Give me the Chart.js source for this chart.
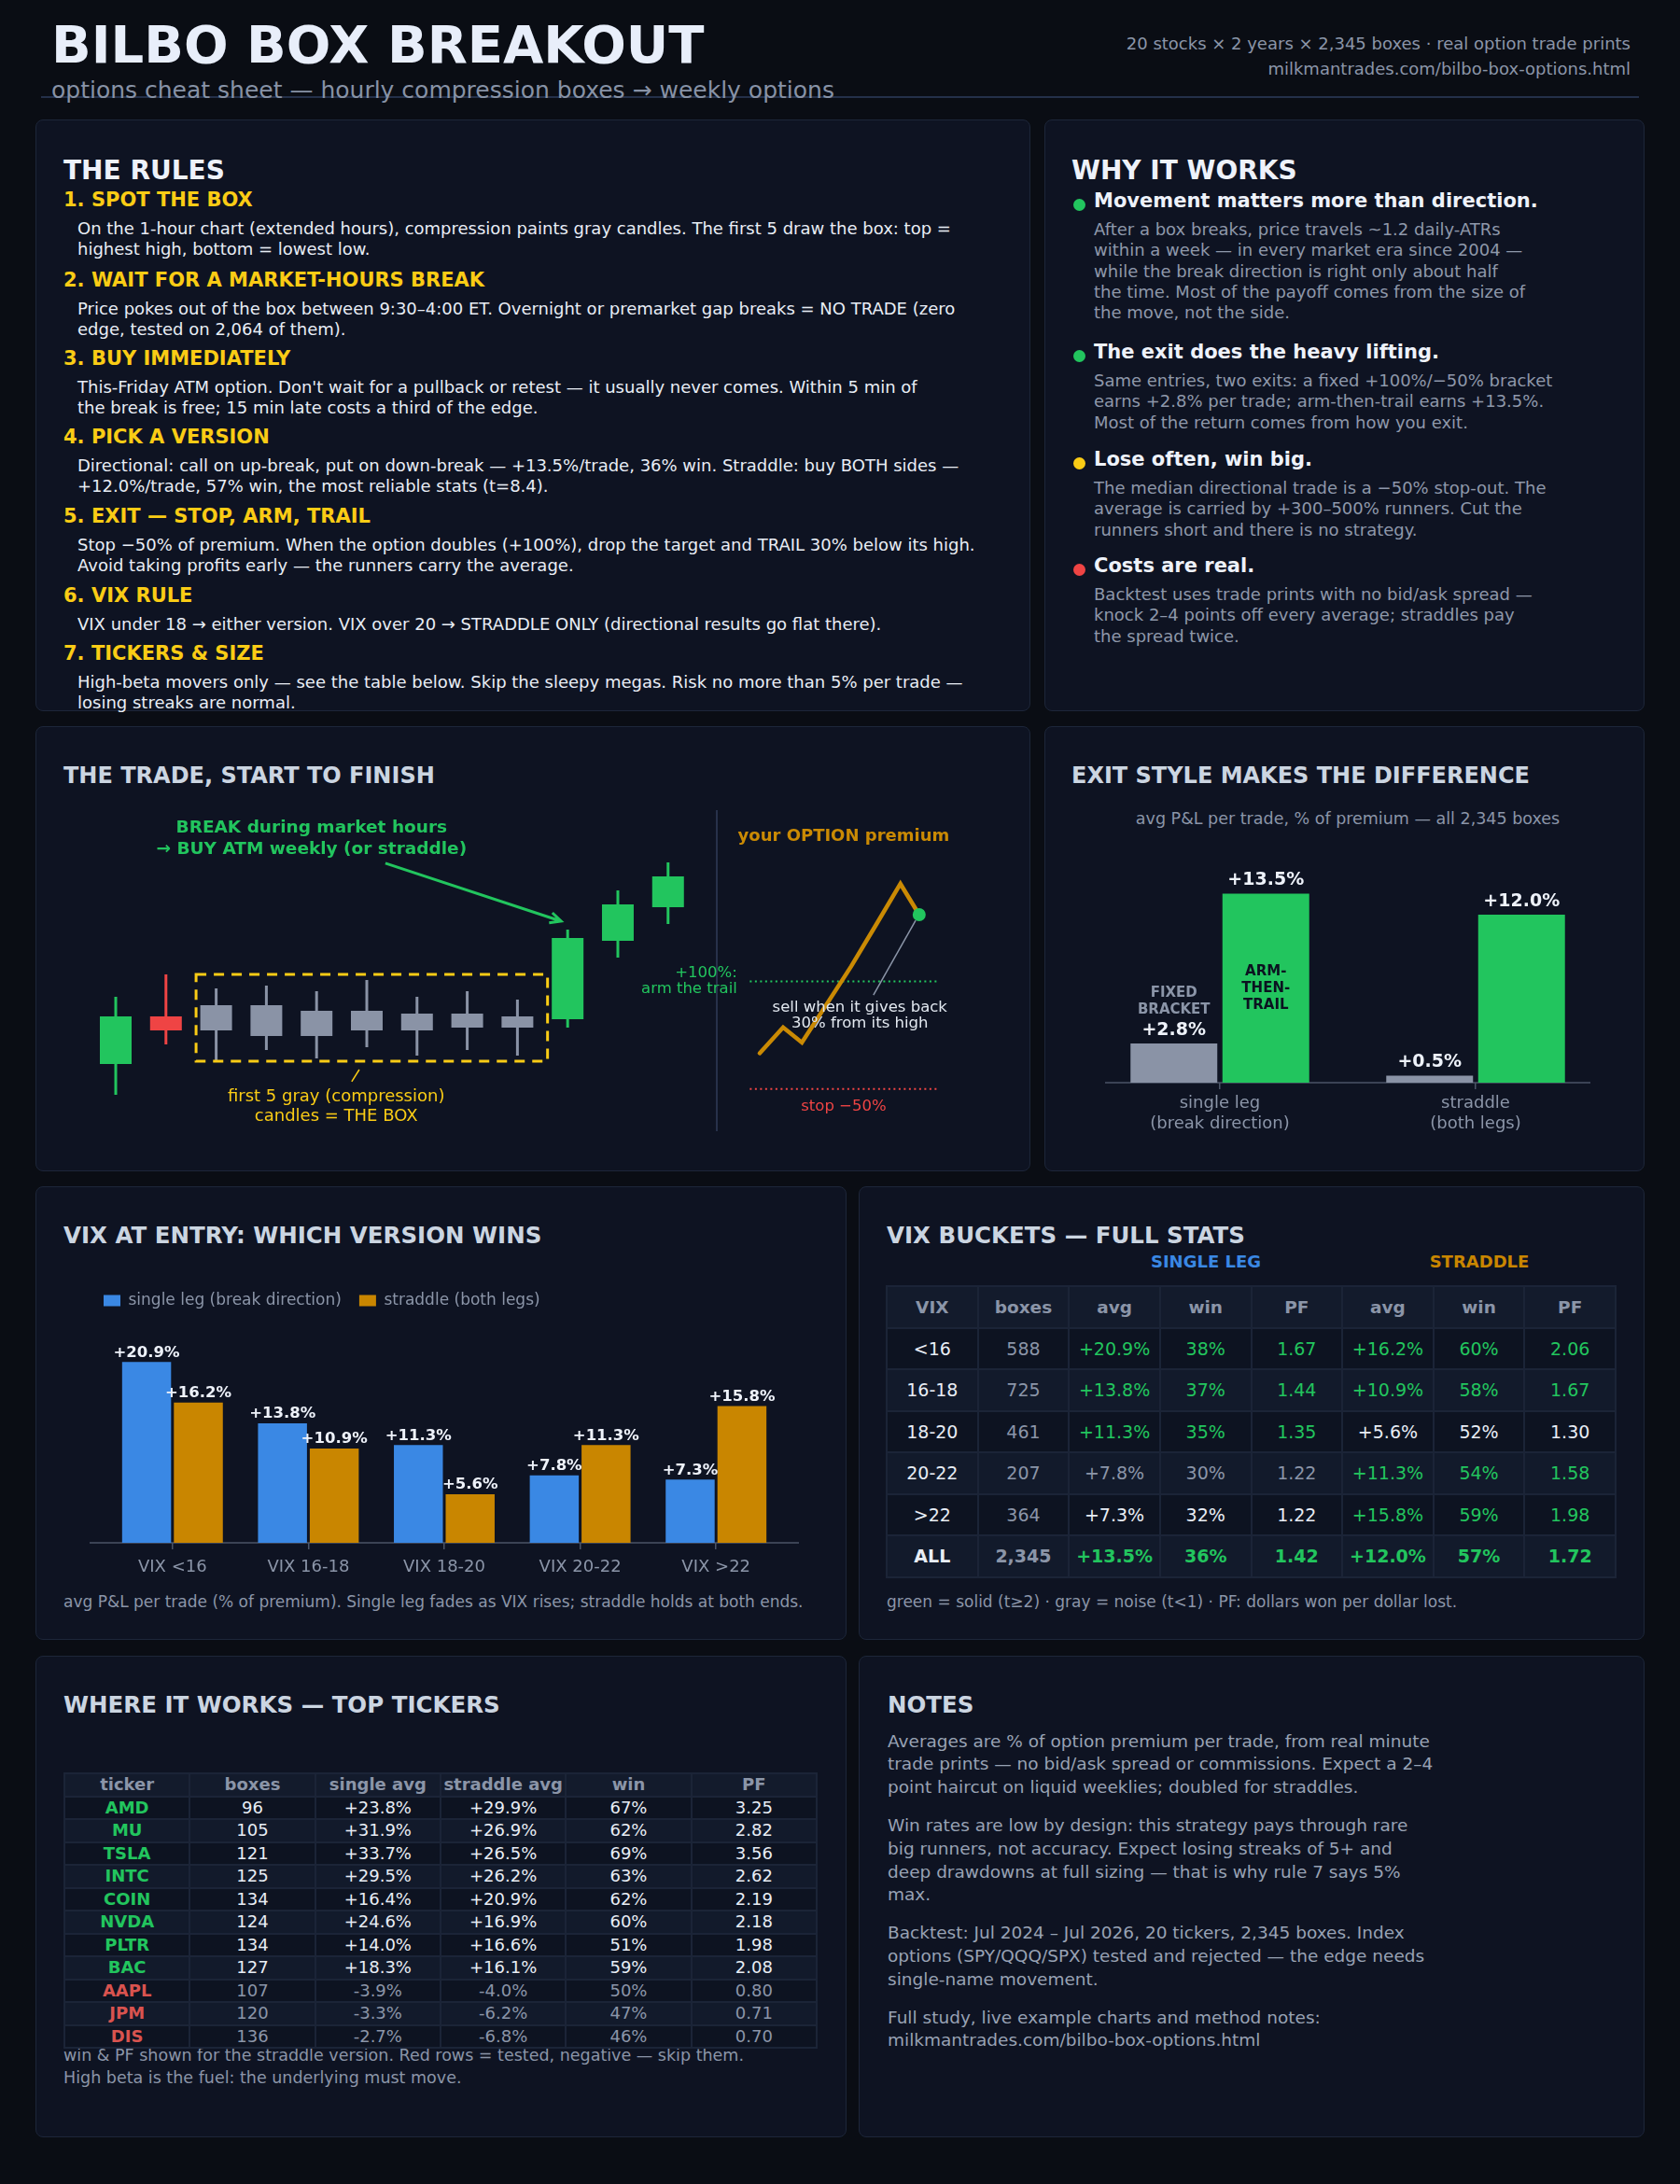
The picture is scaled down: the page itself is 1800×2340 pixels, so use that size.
<!DOCTYPE html>
<html>
<head>
<meta charset="utf-8">
<title>Bilbo Box Breakout</title>
<script src="https://cdn.jsdelivr.net/npm/chart.js@4.4.1/dist/chart.umd.min.js"></script>
<style>
  html, body { margin: 0; padding: 0; }
  body { width: 1800px; height: 2340px; background: #0a0d14; position: relative; overflow: hidden;
         font-family: "DejaVu Sans", sans-serif; }
  .abs { position: absolute; white-space: pre; z-index: 3; }
  .panel { position: absolute; background: #0e1322; border: 1.5px solid #1d2639; border-radius: 8px; box-sizing: border-box; z-index: 1; }
  canvas { position: absolute; z-index: 5; }
  table { position: absolute; border-collapse: collapse; table-layout: fixed; z-index: 3; }
  td, th { text-align: center; border: 2px solid #1b2437; padding: 0; white-space: nowrap; overflow: hidden; }
</style>
</head>
<body>
<canvas id="candles" width="670" height="360" style="left:90px;top:860px;width:670px;height:360px"></canvas>
<canvas id="premium" width="420" height="360" style="left:660px;top:860px;width:420px;height:360px"></canvas>
<canvas id="exitChart" width="548" height="345" style="left:1170px;top:890px;width:548px;height:345px"></canvas>
<canvas id="vixChart" width="768" height="337" style="left:92px;top:1366px;width:768px;height:337px"></canvas>
<script>
//data: rules panel
const ruleTitles = ["1. SPOT THE BOX", "2. WAIT FOR A MARKET-HOURS BREAK", "3. BUY IMMEDIATELY",
	"4. PICK A VERSION", "5. EXIT \u2014 STOP, ARM, TRAIL", "6. VIX RULE", "7. TICKERS & SIZE"];
const ruleLines = [
	["On the 1-hour chart (extended hours), compression paints gray candles. The first 5 draw the box: top =",
	 "highest high, bottom = lowest low."],
	["Price pokes out of the box between 9:30\u20134:00 ET. Overnight or premarket gap breaks = NO TRADE (zero",
	 "edge, tested on 2,064 of them)."],
	["This-Friday ATM option. Don't wait for a pullback or retest \u2014 it usually never comes. Within 5 min of",
	 "the break is free; 15 min late costs a third of the edge."],
	["Directional: call on up-break, put on down-break \u2014 +13.5%/trade, 36% win. Straddle: buy BOTH sides \u2014",
	 "+12.0%/trade, 57% win, the most reliable stats (t=8.4)."],
	["Stop \u221250% of premium. When the option doubles (+100%), drop the target and TRAIL 30% below its high.",
	 "Avoid taking profits early \u2014 the runners carry the average."],
	["VIX under 18 \u2192 either version. VIX over 20 \u2192 STRADDLE ONLY (directional results go flat there)."],
	["High-beta movers only \u2014 see the table below. Skip the sleepy megas. Risk no more than 5% per trade \u2014",
	 "losing streaks are normal."],
];

//data: why it works
const whyTitles = ["Movement matters more than direction.", "The exit does the heavy lifting.",
	"Lose often, win big.", "Costs are real."];
const whyTone = ["good", "good", "warn", "bad"];
const whyLines = [
	["After a box breaks, price travels ~1.2 daily-ATRs", "within a week \u2014 in every market era since 2004 \u2014",
	 "while the break direction is right only about half", "the time. Most of the payoff comes from the size of",
	 "the move, not the side."],
	["Same entries, two exits: a fixed +100%/\u221250% bracket", "earns +2.8% per trade; arm-then-trail earns +13.5%.",
	 "Most of the return comes from how you exit."],
	["The median directional trade is a \u221250% stop-out. The", "average is carried by +300\u2013500% runners. Cut the",
	 "runners short and there is no strategy."],
	["Backtest uses trade prints with no bid/ask spread \u2014", "knock 2\u20134 points off every average; straddles pay",
	 "the spread twice."],
];

//data: schematic candles (price units) and the option premium path (% of premium)
const candleOpen = [20, 37, 32, 30, 39, 32, 38, 33, 37, 36, 64, 76];
const candleClose = [37, 32, 41, 41, 30, 39, 32, 38, 33, 65, 77, 87];
const candleHigh = [44, 52, 47, 48, 46, 50, 44, 46, 43, 68, 82, 92];
const candleLow = [9, 27, 21, 25, 22, 26, 23, 25, 23, 33, 58, 70];
const compressionFrom = 2, compressionTo = 8;
const boxLeft = 1.6, boxRight = 8.6, boxTop = 52, boxBottom = 21;
const premiumX = [0, 1, 1.8, 3.9, 5, 6, 6.8];
const premiumPct = [0, 36, 15, 121, 181, 236, 193];
const armLevel = 100, stopLevel = -50;

//data: exit style
const exitGroups = [["single leg", "(break direction)"], ["straddle", "(both legs)"]];
const fixedBracket = [2.8, 0.5];
const armTrail = [13.5, 12.0];
const exitTagFixed = ["FIXED", "BRACKET"];
const exitTagTrail = ["ARM-", "THEN-", "TRAIL"];

//data: VIX buckets (last entry = ALL)
const vixBuckets = ["<16", "16-18", "18-20", "20-22", ">22", "ALL"];
const vixLabels = ["VIX <16", "VIX 16-18", "VIX 18-20", "VIX 20-22", "VIX >22"];
const vixBoxes = [588, 725, 461, 207, 364, 2345];
const singleAvg = [20.9, 13.8, 11.3, 7.8, 7.3, 13.5];
const singleWin = [38, 37, 35, 30, 32, 36];
const singlePF = [1.67, 1.44, 1.35, 1.22, 1.22, 1.42];
const singleSig = ["solid", "solid", "solid", "noise", "mid", "solid"];
const straddleAvg = [16.2, 10.9, 5.6, 11.3, 15.8, 12.0];
const straddleWin = [60, 58, 52, 54, 59, 57];
const straddlePF = [2.06, 1.67, 1.30, 1.58, 1.98, 1.72];
const straddleSig = ["solid", "solid", "mid", "solid", "solid", "solid"];

//data: tickers
const tickers = ["AMD", "MU", "TSLA", "INTC", "COIN", "NVDA", "PLTR", "BAC", "AAPL", "JPM", "DIS"];
const tickerBoxes = [96, 105, 121, 125, 134, 124, 134, 127, 107, 120, 136];
const tickerSingle = [23.8, 31.9, 33.7, 29.5, 16.4, 24.6, 14.0, 18.3, -3.9, -3.3, -2.7];
const tickerStraddle = [29.9, 26.9, 26.5, 26.2, 20.9, 16.9, 16.6, 16.1, -4.0, -6.2, -6.8];
const tickerWin = [67, 62, 69, 63, 62, 60, 51, 59, 50, 47, 46];
const tickerPF = [3.25, 2.82, 3.56, 2.62, 2.19, 2.18, 1.98, 2.08, 0.80, 0.71, 0.70];

//data: notes
const notes = [
	["Averages are % of option premium per trade, from real minute",
	 "trade prints \u2014 no bid/ask spread or commissions. Expect a 2\u20134",
	 "point haircut on liquid weeklies; doubled for straddles."],
	["Win rates are low by design: this strategy pays through rare",
	 "big runners, not accuracy. Expect losing streaks of 5+ and",
	 "deep drawdowns at full sizing \u2014 that is why rule 7 says 5%", "max."],
	["Backtest: Jul 2024 \u2013 Jul 2026, 20 tickers, 2,345 boxes. Index",
	 "options (SPY/QQQ/SPX) tested and rejected \u2014 the edge needs", "single-name movement."],
	["Full study, live example charts and method notes:", "milkmantrades.com/bilbo-box-options.html"],
];

//colours
const GREEN = "#22c55e", RED = "#ef4444", YELLOW = "#facc15", GOLD = "#ca8a04";
const BLUE = "#3a88e4", ORANGE = "#c98600", GRAY = "#8b95a8", CANDLE_GRAY = "#8a93a6";
const WHITE = "#e8edf5", TITLE = "#eef2fa", SUBTITLE = "#cbd5e1";
const FONT = '"DejaVu Sans"';

//helpers: cy is the centre of the first line
function put(x, cy, lines, o) {
	const lh = o.lh || Math.round(o.size * 1.25);
	const d = document.createElement("div");
	d.className = "abs";
	d.style.top = (cy - lh / 2) + "px";
	d.style.fontSize = o.size + "px";
	d.style.lineHeight = lh + "px";
	d.style.color = o.color;
	d.style.fontWeight = o.bold ? "bold" : "normal";
	if (o.align === "right") {
		d.style.right = (1800 - x) + "px";
		d.style.textAlign = "right";
	} else if (o.align === "center") {
		d.style.left = (x - 300) + "px";
		d.style.width = "600px";
		d.style.textAlign = "center";
	} else {
		d.style.left = x + "px";
	}
	d.textContent = lines.join("\n");
	document.body.appendChild(d);
	return d;
}
function box(cls, x, y, w, h, css) {
	const d = document.createElement("div");
	d.className = cls;
	Object.assign(d.style, { position: "absolute", left: x + "px", top: y + "px", width: w + "px", height: h + "px" }, css || {});
	document.body.appendChild(d);
}
const pct = v => (v >= 0 ? "+" : "") + v.toFixed(1) + "%";

//panels
box("panel", 38, 128, 1066, 634);
box("panel", 1119, 128, 643, 634);
box("panel", 38, 778, 1066, 477);
box("panel", 1119, 778, 643, 477);
box("panel", 38, 1271, 869, 486);
box("panel", 920, 1271, 842, 486);
box("panel", 38, 1774, 869, 516);
box("panel", 920, 1774, 842, 516);

//header
put(55, 48, ["BILBO BOX BREAKOUT"], { size: 56, bold: true, color: "#e8eefa", lh: 62 });
box("", 44, 103, 1712, 2, { background: "#243049", zIndex: 2 });
put(55, 97, ["options cheat sheet \u2014 hourly compression boxes \u2192 weekly options"], { size: 25, color: "#8792a6", lh: 30 });
put(1747, 46, ["20 stocks \u00d7 2 years \u00d7 2,345 boxes \u00b7 real option trade prints"], { size: 18, color: GRAY, align: "right" });
put(1747, 73, ["milkmantrades.com/bilbo-box-options.html"], { size: 18, color: GRAY, align: "right" });

//rules
put(68, 182, ["THE RULES"], { size: 28, bold: true, color: TITLE });
const ruleHeadY = [214, 300, 384, 468, 553, 638, 700];
ruleTitles.forEach((t, i) => {
	put(68, ruleHeadY[i], [t], { size: 21, bold: true, color: YELLOW });
	put(83, ruleHeadY[i] + 31, ruleLines[i], { size: 18, lh: 22.5, color: WHITE });
});

//why it works
put(1148, 182, ["WHY IT WORKS"], { size: 28, bold: true, color: TITLE });
const whyHeadY = [215, 377, 492, 606];
const toneColor = { good: GREEN, warn: YELLOW, bad: RED };
whyTitles.forEach((t, i) => {
	box("", 1150, whyHeadY[i] - 2.5, 13, 13, { borderRadius: "50%", background: toneColor[whyTone[i]], zIndex: 3 });
	put(1172, whyHeadY[i], [t], { size: 21, bold: true, color: TITLE });
	put(1172, whyHeadY[i] + 31, whyLines[i], { size: 18, lh: 22.4, color: "#8e98aa" });
});

//section titles and captions
put(68, 831, ["THE TRADE, START TO FINISH"], { size: 24, bold: true, color: SUBTITLE });
put(1148, 831, ["EXIT STYLE MAKES THE DIFFERENCE"], { size: 24, bold: true, color: SUBTITLE });
put(1444, 877, ["avg P&L per trade, % of premium \u2014 all 2,345 boxes"], { size: 17.5, color: GRAY, align: "center" });
put(68, 1323, ["VIX AT ENTRY: WHICH VERSION WINS"], { size: 24.5, bold: true, color: SUBTITLE });
put(68, 1716, ["avg P&L per trade (% of premium). Single leg fades as VIX rises; straddle holds at both ends."], { size: 17, color: GRAY });
put(950, 1323, ["VIX BUCKETS \u2014 FULL STATS"], { size: 24.5, bold: true, color: SUBTITLE });
put(1292, 1351, ["SINGLE LEG"], { size: 18, bold: true, color: BLUE, align: "center" });
put(1585, 1351, ["STRADDLE"], { size: 18, bold: true, color: ORANGE, align: "center" });
put(950, 1716, ["green = solid (t\u22652) \u00b7 gray = noise (t<1) \u00b7 PF: dollars won per dollar lost."], { size: 17, color: GRAY });
put(68, 1826, ["WHERE IT WORKS \u2014 TOP TICKERS"], { size: 24.5, bold: true, color: SUBTITLE });
put(68, 2202, ["win & PF shown for the straddle version. Red rows = tested, negative \u2014 skip them.",
	"High beta is the fuel: the underlying must move."], { size: 17.5, lh: 24, color: GRAY });
put(951, 1826, ["NOTES"], { size: 24.5, bold: true, color: SUBTITLE });

//notes
let noteY = 1866;
notes.forEach(p => {
	put(951, noteY, p, { size: 18.5, lh: 24.8, color: "#98a2b4" });
	noteY += 24.8 * p.length + 16;
});

//divider in the trade panel
box("", 767, 868, 1.5, 344, { background: "#27314a", zIndex: 2 });

//VIX buckets table
(function () {
	const sigColor = { solid: GREEN, noise: GRAY, mid: WHITE };
	const t = document.createElement("table");
	Object.assign(t.style, { left: "949px", top: "1377px", width: "783px" });
	let html = "<tr style='height:44.5px;background:#131b2c'>" +
		["VIX", "boxes", "avg", "win", "PF", "avg", "win", "PF"].map(h =>
			"<th style='font-size:18.5px;color:" + GRAY + "'>" + h + "</th>").join("") + "</tr>";
	vixBuckets.forEach((b, i) => {
		const all = i === vixBuckets.length - 1;
		const bg = i % 2 === 0 ? "#0d1321" : "#121a2b";
		const w = all ? "bold" : "normal";
		const cell = (txt, c) => "<td style='font-size:19px;font-weight:" + w + ";color:" + c + "'>" + txt + "</td>";
		const sc = sigColor[singleSig[i]], tc = sigColor[straddleSig[i]];
		html += "<tr style='height:44.5px;background:" + bg + "'>" +
			cell(b, WHITE) + cell(vixBoxes[i].toLocaleString("en-US"), GRAY) +
			cell(pct(singleAvg[i]), sc) + cell(singleWin[i] + "%", sc) + cell(singlePF[i].toFixed(2), sc) +
			cell(pct(straddleAvg[i]), tc) + cell(straddleWin[i] + "%", tc) + cell(straddlePF[i].toFixed(2), tc) + "</tr>";
	});
	t.innerHTML = html;
	document.body.appendChild(t);
})();

//tickers table
(function () {
	const t = document.createElement("table");
	Object.assign(t.style, { left: "68px", top: "1899px", width: "808px" });
	let html = "<tr style='height:24.5px;background:#131b2c'>" +
		["ticker", "boxes", "single avg", "straddle avg", "win", "PF"].map(h =>
			"<th style='font-size:18px;line-height:20px;color:" + GRAY + "'>" + h + "</th>").join("") + "</tr>";
	tickers.forEach((tk, i) => {
		const neg = tickerStraddle[i] < 0;
		const bg = i % 2 === 0 ? "#0d1321" : "#121a2b";
		const vc = neg ? GRAY : WHITE;
		const cell = (txt, c, b) => "<td style='font-size:18px;line-height:20px;font-weight:" + (b ? "bold" : "normal") + ";color:" + c + "'>" + txt + "</td>";
		html += "<tr style='height:24.5px;background:" + bg + "'>" +
			cell(tk, neg ? "#d9534f" : GREEN, true) + cell(tickerBoxes[i], vc) + cell(pct(tickerSingle[i]), vc) +
			cell(pct(tickerStraddle[i]), vc) + cell(tickerWin[i] + "%", vc) + cell(tickerPF[i].toFixed(2), vc) + "</tr>";
	});
	t.innerHTML = html;
	document.body.appendChild(t);
})();

//charts
Chart.defaults.font.family = FONT;
Chart.defaults.animation = false;

//value labels above bars
const barLabels = {
	id: "barLabels",
	afterDatasetsDraw(chart, args, opts) {
		const ctx = chart.ctx;
		ctx.save();
		ctx.font = opts.font;
		ctx.fillStyle = opts.color;
		ctx.textAlign = "center";
		ctx.textBaseline = "middle";
		chart.data.datasets.forEach((ds, di) => {
			chart.getDatasetMeta(di).data.forEach((bar, i) => {
				ctx.fillText(pct(ds.data[i]), bar.x, bar.y - opts.offset);
			});
		});
		ctx.restore();
	},
};

//zero line, may run a little past the plot area
const baseline = {
	id: "baseline",
	beforeDatasetsDraw(chart, args, opts) {
		const { ctx, chartArea, scales } = chart;
		const py = scales.y.getPixelForValue(0);
		ctx.save();
		ctx.strokeStyle = opts.color;
		ctx.lineWidth = 1.5;
		ctx.beginPath();
		ctx.moveTo(chartArea.left - opts.extend, py);
		ctx.lineTo(chartArea.right + opts.extend, py);
		ctx.stroke();
		ctx.restore();
	},
};

//candles: gray inside the compression run, otherwise green/red
function candleColor(i) {
	if (i >= compressionFrom && i <= compressionTo) return CANDLE_GRAY;
	return candleClose[i] >= candleOpen[i] ? GREEN : RED;
}

const tradeMarks = {
	id: "tradeMarks",
	afterDatasetsDraw(chart) {
		const { ctx, scales: { x, y } } = chart;
		ctx.save();
		//the box
		ctx.strokeStyle = YELLOW;
		ctx.lineWidth = 3;
		ctx.setLineDash([11, 8]);
		const bx = x.getPixelForValue(boxLeft), by = y.getPixelForValue(boxTop);
		ctx.strokeRect(bx, by, x.getPixelForValue(boxRight) - bx, y.getPixelForValue(boxBottom) - by);
		ctx.setLineDash([]);
		//pointer from the caption
		ctx.lineWidth = 1.5;
		ctx.beginPath();
		ctx.moveTo(x.getPixelForValue(4.85), y.getPixelForValue(18));
		ctx.lineTo(x.getPixelForValue(4.7), y.getPixelForValue(13.7));
		ctx.stroke();
		//arrow to the break candle
		const x0 = x.getPixelForValue(5.37), y0 = y.getPixelForValue(91.7);
		const x1 = x.getPixelForValue(8.87), y1 = y.getPixelForValue(71);
		const a = Math.atan2(y1 - y0, x1 - x0);
		ctx.strokeStyle = GREEN;
		ctx.lineWidth = 3;
		ctx.beginPath();
		ctx.moveTo(x0, y0);
		ctx.lineTo(x1, y1);
		ctx.moveTo(x1 - 13 * Math.cos(a - 0.45), y1 - 13 * Math.sin(a - 0.45));
		ctx.lineTo(x1, y1);
		ctx.lineTo(x1 - 13 * Math.cos(a + 0.45), y1 - 13 * Math.sin(a + 0.45));
		ctx.stroke();
		//texts
		ctx.textAlign = "center";
		ctx.textBaseline = "middle";
		ctx.fillStyle = GREEN;
		ctx.font = "bold 18.5px " + FONT;
		ctx.fillText("BREAK during market hours", x.getPixelForValue(3.9), y.getPixelForValue(104.3));
		ctx.fillText("\u2192 BUY ATM weekly (or straddle)", x.getPixelForValue(3.9), y.getPixelForValue(96.7));
		ctx.fillStyle = YELLOW;
		ctx.font = "18px " + FONT;
		ctx.fillText("first 5 gray (compression)", x.getPixelForValue(4.39), y.getPixelForValue(8.3));
		ctx.fillText("candles = THE BOX", x.getPixelForValue(4.39), y.getPixelForValue(1.3));
		ctx.restore();
	},
};

new Chart(document.getElementById("candles"), {
	type: "bar",
	data: {
		datasets: [
			{
				label: "body",
				data: candleOpen.map((o, i) => ({ x: i, y: [o, candleClose[i]] })),
				backgroundColor: ctx => candleColor(ctx.dataIndex),
				grouped: false,
				maxBarThickness: 34,
			},
			{
				label: "wick",
				data: candleLow.map((l, i) => ({ x: i, y: [l, candleHigh[i]] })),
				backgroundColor: ctx => candleColor(ctx.dataIndex),
				grouped: false,
				maxBarThickness: 3,
			},
		],
	},
	options: {
		responsive: false,
		layout: { padding: 0 },
		plugins: { legend: { display: false }, tooltip: { enabled: false } },
		scales: {
			x: { type: "linear", display: false, offset: false, min: -0.632, max: 11.822 },
			y: { display: false, min: -6.667, max: 113.333 },
		},
	},
	plugins: [tradeMarks],
});

const premiumMarks = {
	id: "premiumMarks",
	beforeDatasetsDraw(chart) {
		const { ctx, scales: { x, y } } = chart;
		ctx.save();
		ctx.lineWidth = 2;
		ctx.setLineDash([2, 3.5]);
		[[armLevel, GREEN], [stopLevel, RED]].forEach(([lv, c]) => {
			ctx.strokeStyle = c;
			ctx.beginPath();
			ctx.moveTo(x.getPixelForValue(-0.42), y.getPixelForValue(lv));
			ctx.lineTo(x.getPixelForValue(7.6), y.getPixelForValue(lv));
			ctx.stroke();
		});
		ctx.restore();
	},
	afterDatasetsDraw(chart) {
		const { ctx, scales: { x, y } } = chart;
		ctx.save();
		ctx.strokeStyle = GRAY;
		ctx.lineWidth = 1.5;
		ctx.beginPath();
		ctx.moveTo(x.getPixelForValue(4.85), y.getPixelForValue(81));
		ctx.lineTo(x.getPixelForValue(6.65), y.getPixelForValue(185));
		ctx.stroke();
		ctx.textBaseline = "middle";
		ctx.textAlign = "center";
		ctx.font = "bold 18px " + FONT;
		ctx.fillStyle = GOLD;
		ctx.fillText("your OPTION premium", x.getPixelForValue(3.58), y.getPixelForValue(302.5));
		ctx.font = "16.5px " + FONT;
		ctx.fillStyle = RED;
		ctx.fillText("stop \u221250%", x.getPixelForValue(3.58), y.getPixelForValue(-75));
		ctx.fillStyle = "#e2e8f0";
		ctx.fillText("sell when it gives back", x.getPixelForValue(4.27), y.getPixelForValue(63.75));
		ctx.fillText("30% from its high", x.getPixelForValue(4.27), y.getPixelForValue(41.25));
		ctx.textAlign = "right";
		ctx.fillStyle = GREEN;
		ctx.fillText("+100%:", x.getPixelForValue(-0.96), y.getPixelForValue(111));
		ctx.fillText("arm the trail", x.getPixelForValue(-0.96), y.getPixelForValue(88.75));
		ctx.restore();
	},
};

new Chart(document.getElementById("premium"), {
	type: "line",
	data: {
		datasets: [{
			label: "option premium",
			data: premiumX.map((v, i) => ({ x: v, y: premiumPct[i] })),
			borderColor: GOLD,
			borderWidth: 4.5,
			borderCapStyle: "round",
			tension: 0,
			pointRadius: ctx => (ctx.dataIndex === premiumPct.length - 1 ? 7 : 0),
			pointBackgroundColor: GREEN,
			pointBorderWidth: 0,
		}],
	},
	options: {
		responsive: false,
		layout: { padding: 0 },
		plugins: { legend: { display: false }, tooltip: { enabled: false } },
		scales: {
			x: { type: "linear", display: false, min: -5.846, max: 10.308 },
			y: { display: false, min: -110, max: 340 },
		},
	},
	plugins: [premiumMarks],
});

//exit style chart
const exitTags = {
	id: "exitTags",
	afterDatasetsDraw(chart) {
		const ctx = chart.ctx;
		const fixed = chart.getDatasetMeta(0).data[0];
		const trail = chart.getDatasetMeta(1).data[0];
		ctx.save();
		ctx.font = "bold 15px " + FONT;
		ctx.textAlign = "center";
		ctx.textBaseline = "middle";
		ctx.fillStyle = GRAY;
		exitTagFixed.forEach((t, i) => ctx.fillText(t, fixed.x, fixed.y - 54 + i * 18));
		ctx.fillStyle = "#0b1220";
		const mid = (trail.y + trail.base) / 2;
		exitTagTrail.forEach((t, i) => ctx.fillText(t, trail.x, mid - 18 + i * 18));
		ctx.restore();
	},
};

new Chart(document.getElementById("exitChart"), {
	type: "bar",
	data: {
		labels: exitGroups,
		datasets: [
			{ label: "fixed bracket", data: fixedBracket, backgroundColor: CANDLE_GRAY, categoryPercentage: 0.719, barPercentage: 0.944 },
			{ label: "arm-then-trail", data: armTrail, backgroundColor: GREEN, categoryPercentage: 0.719, barPercentage: 0.944 },
		],
	},
	options: {
		responsive: false,
		layout: { padding: 0 },
		plugins: {
			legend: { display: false },
			tooltip: { enabled: false },
			barLabels: { font: "bold 19px " + FONT, color: TITLE, offset: 14 },
			baseline: { color: "#4b5567", extend: -14 },
		},
		scales: {
			x: {
				grid: { offset: false, drawOnChartArea: false, drawTicks: true, tickLength: 7, color: "#4b5567", lineWidth: 1.5 },
				border: { display: false },
				ticks: { color: GRAY, font: { size: 18, lineHeight: 1.2 }, padding: 5 },
				afterFit(s) { s.height = 75; },
			},
			y: { display: false, min: 0, max: 18 },
		},
	},
	plugins: [baseline, barLabels, exitTags],
});

//VIX chart: an empty 20px y axis keeps the legend left of the plot area
new Chart(document.getElementById("vixChart"), {
	type: "bar",
	data: {
		labels: vixLabels,
		datasets: [
			{ label: "single leg (break direction)", data: singleAvg.slice(0, 5), backgroundColor: BLUE, borderWidth: 0, categoryPercentage: 0.762, barPercentage: 0.946 },
			{ label: "straddle (both legs)", data: straddleAvg.slice(0, 5), backgroundColor: ORANGE, borderWidth: 0, categoryPercentage: 0.762, barPercentage: 0.946 },
		],
	},
	options: {
		responsive: false,
		layout: { padding: { left: 0, right: 20 } },
		plugins: {
			legend: {
				display: true,
				position: "top",
				align: "start",
				labels: { boxWidth: 18, boxHeight: 12, padding: 19, color: GRAY, font: { size: 17 } },
			},
			tooltip: { enabled: false },
			barLabels: { font: "bold 16.5px " + FONT, color: TITLE, offset: 10 },
			baseline: { color: "#4b5567", extend: 16 },
		},
		scales: {
			x: {
				grid: { offset: false, drawOnChartArea: false, drawTicks: true, tickLength: 7, color: "#4b5567", lineWidth: 1.5 },
				border: { display: false },
				ticks: { color: GRAY, font: { size: 18, lineHeight: 1.2 }, padding: 9 },
				afterFit(s) { s.height = 50; },
			},
			y: {
				display: true,
				min: 0,
				max: 26,
				grid: { display: false, drawTicks: false },
				border: { display: false },
				ticks: { display: false },
				afterFit(s) { s.width = 20; },
			},
		},
	},
	plugins: [baseline, barLabels],
});
</script>
</body>
</html>
